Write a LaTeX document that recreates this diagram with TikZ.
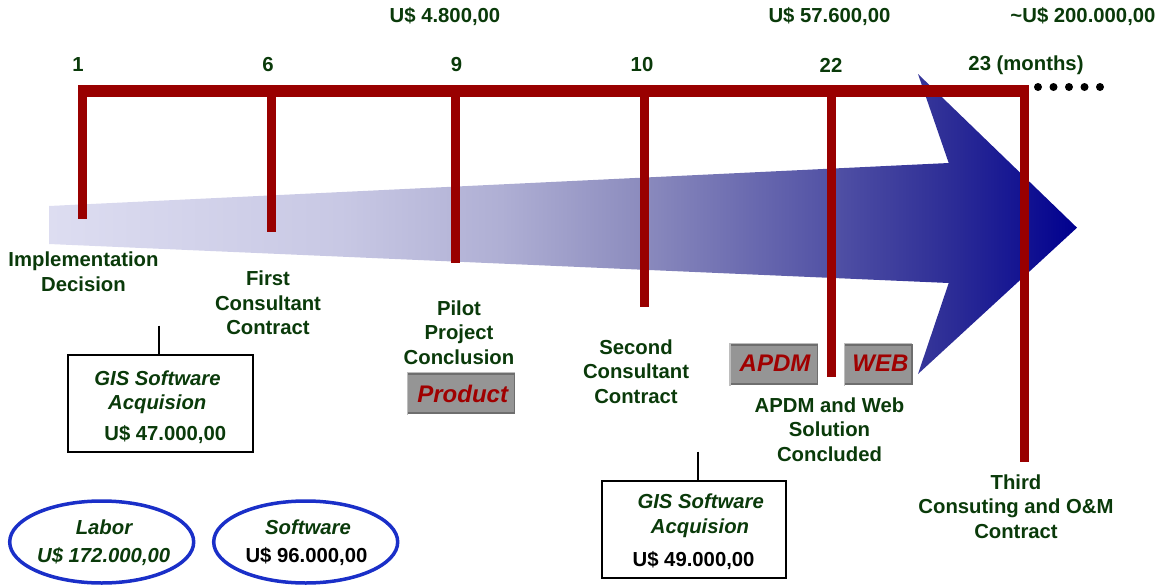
\documentclass[tikz,border=0pt]{standalone}
\usepackage{fontspec}
\setmainfont{Liberation Sans}
\usetikzlibrary{shapes.geometric}
\definecolor{dg}{HTML}{0A3A0A}
\definecolor{barred}{HTML}{990000}
\definecolor{eblue}{HTML}{1A2FC8}
\definecolor{btnfill}{HTML}{959595}
\definecolor{btnlight}{HTML}{BDBDBD}
\definecolor{btndark}{HTML}{6E6E6E}
\definecolor{prodred}{HTML}{A00000}
\pgfdeclarehorizontalshading{arrowshade}{100bp}{
  rgb(0bp)=(0.867,0.867,0.945);
  rgb(25bp)=(0.867,0.867,0.945);
  rgb(39.2bp)=(0.784,0.784,0.894);
  rgb(47bp)=(0.686,0.686,0.831);
  rgb(53.7bp)=(0.549,0.549,0.745);
  rgb(63bp)=(0.32,0.32,0.647);
  rgb(68.8bp)=(0.176,0.176,0.588);
  rgb(75bp)=(0.0,0.0,0.56);
  rgb(100bp)=(0.0,0.0,0.56)}
\begin{document}
\begin{tikzpicture}[x=1pt,y=-1pt,
  lbl/.style={text=dg,font=\fontsize{20.3}{24.5}\selectfont\bfseries,align=center,inner sep=0pt},
  ilbl/.style={lbl,font=\fontsize{20.3}{24.5}\selectfont\bfseries\itshape},
  btxt/.style={text=prodred,font=\fontsize{24}{28}\selectfont\bfseries\itshape,inner sep=0pt,anchor=base},
  redbar/.style={fill=barred},
  gbox/.style={draw=black,line width=2pt,minimum width=#1,minimum height=97pt,inner sep=0pt},
  button/.style={fill=btnfill,draw=btndark,line width=1.5pt,minimum height=39pt,inner sep=0pt,minimum width=#1},
  ell/.style={draw=eblue,line width=3.5pt,ellipse,minimum width=184pt,minimum height=82pt,inner sep=0pt},
  dot/.style={circle,fill=black,minimum size=8pt,inner sep=0pt},
  conn/.style={draw=black,line width=2pt}
]
\useasboundingbox (0,0) rectangle (1164,586);

% big shaded arrow
\shade[shading=arrowshade]
  (49,206) -- (948.7,163) -- (918,74) -- (1077,227.7) -- (918,374) -- (948.7,283) -- (49,244) -- cycle;

% timeline bars
\fill[redbar] (77.7,85) rectangle (1028.5,97);
\fill[redbar] (77.7,85) rectangle (86.7,219);
\fill[redbar] (267,85) rectangle (276,232);
\fill[redbar] (450.7,85) rectangle (459.7,263);
\fill[redbar] (640,85) rectangle (649,307);
\fill[redbar] (826.5,85) rectangle (835.5,377);
\fill[redbar] (1019.5,85) rectangle (1028.5,462);

% dots
\foreach \i/\x in {1/1038,2/1053.5,3/1069,4/1084.5,5/1100}
  \node[dot] (dot\i) at (\x,87) {};

% month numbers
\node[lbl] (m1) at (78,65) {1};
\node[lbl] (m6) at (268,65) {6};
\node[lbl] (m9) at (456.5,65) {9};
\node[lbl] (m10) at (642,65) {10};
\node[lbl] (m22) at (831,65) {22};
\node[lbl] (m23) at (1026,65) {23 (months)};

% amounts on top
\node[lbl] (c1) at (445,17) {U\$ 4.800,00};
\node[lbl] (c2) at (829.5,17) {U\$ 57.600,00};
\node[lbl] (c3) at (1083,17) {\textasciitilde U\$ 200.000,00};

% milestone labels
\node[lbl] (impl) at (83.5,271.5) {Implementation\\Decision};
\node[lbl] (first) at (268,303) {First\\Consultant\\Contract};
\node[lbl] (pilot) at (459,332.5) {Pilot\\Project\\Conclusion};
\node[lbl] (second) at (636,371.5) {Second\\Consultant\\Contract};
\node[lbl] (apdmweb) at (829.5,429.5) {APDM and Web\\Solution\\Concluded};
\node[lbl] (third) at (1016,506.7) {Third\\Consuting and O\&M\\Contract};

% buttons
\node[button=107pt] (product) at (461,393.5) {};
\node[button=87.6pt] (apdm) at (773.8,364.5) {};
\node[button=67.6pt] (web) at (878.2,364.5) {};
\foreach \b in {product,apdm,web}
  \draw[btnlight,line width=1.5pt] ([xshift=0.75pt,yshift=-0.75pt]\b.south west) -- ([xshift=0.75pt,yshift=0.75pt]\b.north west) -- ([xshift=-0.75pt,yshift=0.75pt]\b.north east);
\node[btxt] at (462.7,402.6) {Product};
\node[btxt] at (775,371.9) {APDM};
\node[btxt] at (880.4,371.9) {WEB};

% GIS box 1
\node[gbox=185pt] (box1) at (160.2,403.5) {};
\coordinate (k1) at (159,325.7);
\draw[conn] (k1) -- (k1 |- box1.north);
\node[ilbl,anchor=base] at (157.5,385) {GIS Software};
\node[ilbl,anchor=base] at (157.3,409) {Acquision};
\node[lbl,anchor=base] at (165.3,440) {U\$ 47.000,00};

% GIS box 2
\node[gbox=184.4pt] (box2) at (693.8,529.5) {};
\coordinate (k2) at (698.4,451.7);
\draw[conn] (k2) -- (k2 |- box2.north);
\node[ilbl,anchor=base] at (700.7,508.7) {GIS Software};
\node[ilbl,anchor=base] at (700,533) {Acquision};
\node[lbl,anchor=base,text=black] at (693.6,566) {U\$ 49.000,00};

% ellipses
\node[ell] (labor) at (101.7,542) {};
\node[ell] (soft) at (305.7,542) {};
\node[ilbl,anchor=base] at (104,534) {Labor};
\node[ilbl,anchor=base] at (103.7,562) {U\$ 172.000,00};
\node[ilbl,anchor=base] at (308,534) {Software};
\node[lbl,anchor=base,text=black] at (306.5,562) {U\$ 96.000,00};
\end{tikzpicture}
\end{document}
